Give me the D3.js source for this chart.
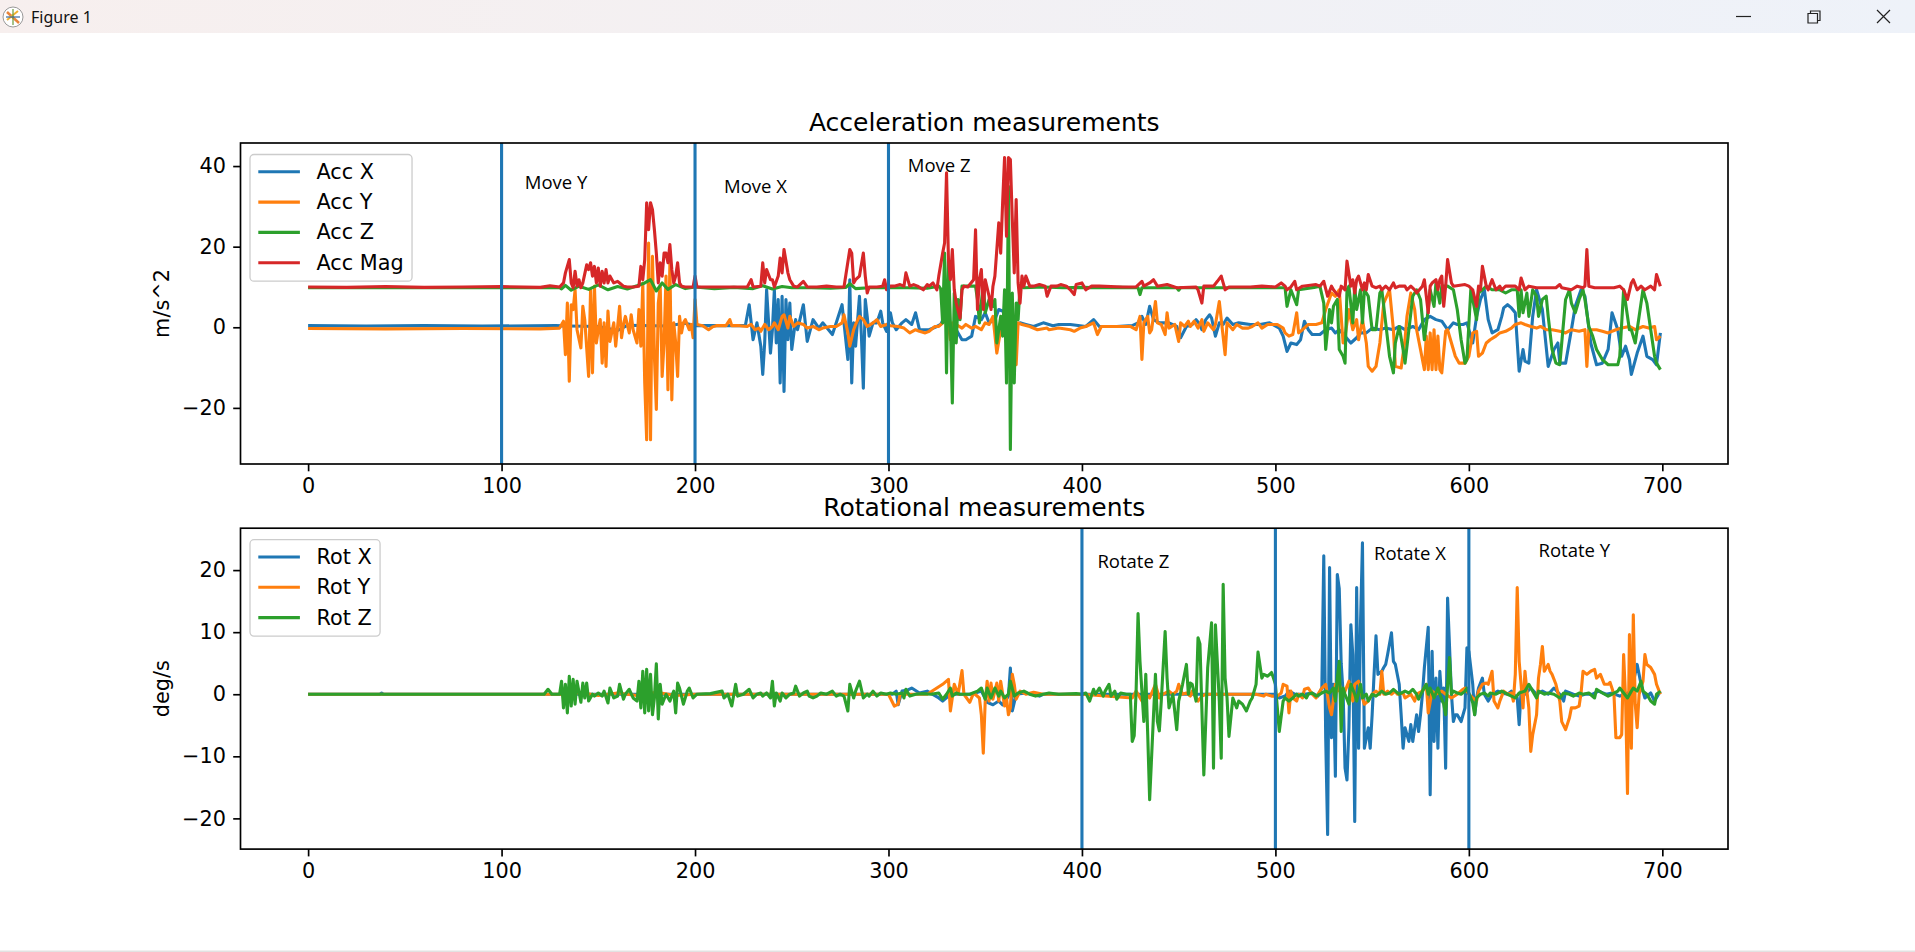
<!DOCTYPE html>
<html>
<head>
<meta charset="utf-8">
<script src="https://cdn.jsdelivr.net/npm/d3@7"></script>
<style>
  html, body { margin: 0; padding: 0; background: #fff; overflow: hidden; }
  svg { display: block; }
</style>
</head>
<body>
<svg id="chart" width="1915" height="952"></svg>
<script>
// ---------------- DATA ----------------
const accLabels = ["Acc X", "Acc Y", "Acc Z", "Acc Mag"];
const rotLabels = ["Rot X", "Rot Y", "Rot Z"];
const xTicks = [0, 100, 200, 300, 400, 500, 600, 700];
const accTicks = [-20, 0, 20, 40];
const rotTicks = [-20, -10, 0, 10, 20];
const accMarkers = [100, 200, 300];
const rotMarkers = [400, 500, 600];
const accNotes = [[112, 34.2, "Move Y"], [215, 33.2, "Move X"], [310, 38.5, "Move Z"]];
const rotNotes = [[408, 20.3, "Rotate Z"], [551, 21.7, "Rotate X"], [636, 22.1, "Rotate Y"]];

const accX = [[0,0.4],[30,0.3],[60,0.4],[90,0.3],[128,0.4],[135,0.3],[150,0.2],[160,-0.8],[165,0.5],[185,0.3],[195,1.0],[200,0.4],[226,0.4],[228,5.6],[230,-3.1],[232,1.1],[234,-4.7],[235,-11.7],[236,-3.9],[237,9.3],[239,-6.4],[240,-0.6],[241,9.3],[242,-3.9],[243,6.9],[244,-13.8],[245,7.7],[246,-15.9],[247,6.9],[248,-3.1],[249,6.0],[250,-5.5],[252,1.9],[253,-0.6],[256,5.6],[258,-3.5],[261,1.9],[264,-0.2],[266,1.1],[269,-0.6],[271,-1.8],[273,1.1],[276,5.6],[277,1.1],[279,-8.0],[280,11.8],[281,-13.8],[282,1.1],[283,-4.7],[285,7.7],[286,-2.2],[287,-15.1],[288,6.9],[289,2.7],[290,-2.2],[292,1.1],[294,1.1],[296,4.0],[297,1.1],[299,-1.0],[301,3.6],[302,1.1],[304,-0.6],[307,1.1],[309,1.9],[312,0.7],[314,3.6],[316,-0.6],[319,-0.6],[321,-0.6],[325,0.2],[327,0.7],[329,2.7],[331,1.1],[333,-3.9],[335,-0.6],[338,-3.1],[340,-3.1],[343,-2.2],[345,2.7],[348,1.9],[350,3.6],[352,1.1],[355,1.9],[357,4.4],[361,3.6],[364,0.2],[368,1.1],[371,0.7],[375,0.2],[380,1.1],[385,0.4],[388,0.7],[394,0.7],[399,0.4],[402,0.2],[406,1.9],[409,0.2],[418,0.2],[426,0.4],[429,1.1],[431,2.7],[433,0.7],[435,5.2],[437,1.9],[440,1.1],[445,1.1],[449,0.2],[451,-2.6],[454,0.2],[457,0.7],[459,1.9],[461,0.7],[462,-0.6],[464,1.9],[466,3.1],[467,2.3],[469,-2.2],[471,1.1],[473,0.7],[475,2.3],[478,0.7],[481,1.1],[487,0.7],[492,0.7],[497,1.1],[502,-0.2],[504,-2.2],[506,-6.0],[508,-3.9],[511,-4.3],[513,-3.1],[515,1.5],[517,-0.6],[519,-1.8],[523,-1.8],[526,-0.6],[529,-0.2],[531,-1.4],[533,-0.6],[536,-2.2],[539,-3.9],[542,-2.6],[544,-1.4],[547,-1.4],[550,-0.2],[554,-0.6],[557,-0.2],[561,-0.6],[564,0.2],[567,-0.6],[571,0.2],[574,-0.6],[577,1.9],[580,2.7],[583,1.9],[586,1.5],[589,-0.6],[592,1.1],[594,0.7],[597,0.7],[599,1.1],[602,-3.9],[604,2.7],[606,6.9],[608,9.3],[610,1.9],[612,-1.4],[615,-0.6],[617,2.7],[618,4.8],[620,5.6],[622,4.8],[624,3.6],[626,-10.9],[628,-5.5],[629,-8.4],[631,-8.9],[633,2.7],[635,9.3],[638,4.4],[641,-9.7],[644,-5.5],[646,-3.9],[647,-8.9],[650,-8.9],[653,-0.6],[655,5.2],[658,9.3],[660,7.7],[663,-3.9],[666,-9.3],[669,-8.9],[672,-5.5],[674,3.6],[677,-0.6],[679,-7.2],[681,-4.7],[683,-8.0],[684,-11.7],[687,-6.4],[690,-2.2],[692,-7.2],[695,-8.0],[697,-9.3],[699,-1.4]];

const accY = [[0,-0.3],[40,-0.4],[80,-0.3],[120,-0.4],[130,-0.2],[132,1.5],[133,-6.8],[134,6.0],[135,-13.4],[136,5.6],[137,4.4],[138,9.3],[139,-0.6],[141,-5.1],[142,5.2],[143,1.9],[145,-12.2],[146,9.3],[147,-11.3],[148,10.2],[149,-3.9],[150,-0.6],[151,1.9],[152,-8.9],[153,1.1],[154,-9.7],[155,4.0],[156,-3.5],[158,1.1],[159,-4.7],[161,5.2],[162,-2.6],[163,0.7],[164,2.7],[166,-1.4],[167,3.1],[168,-0.6],[170,-3.9],[171,4.4],[172,-4.7],[173,11.0],[174,-13.8],[175,-27.9],[176,20.9],[177,-27.9],[178,17.6],[179,-7.2],[180,-20.4],[181,6.0],[182,10.2],[183,-12.2],[184,-3.9],[185,12.7],[186,-15.5],[187,16.0],[188,-18.0],[189,1.1],[190,-3.9],[191,-12.2],[192,2.7],[193,-1.4],[194,1.1],[195,1.9],[197,-0.6],[198,0.7],[199,-2.6],[200,6.9],[201,0.7],[204,0.4],[207,-0.6],[209,0.1],[211,0.4],[216,0.4],[218,1.9],[219,0.4],[223,0.4],[227,0.2],[229,0.7],[231,-0.6],[233,-0.2],[234,-1.0],[236,0.7],[238,-0.6],[240,0.2],[241,1.1],[243,-0.6],[245,2.7],[246,3.1],[248,-0.2],[249,2.7],[251,0.2],[253,1.1],[256,0.7],[258,-0.2],[261,0.2],[264,-0.6],[266,-0.2],[270,0.2],[273,0.2],[276,1.1],[277,3.1],[279,-1.4],[280,-4.7],[282,-0.6],[283,0.7],[285,2.7],[287,1.9],[289,0.2],[292,1.1],[294,1.9],[296,0.2],[299,0.7],[301,0.4],[305,0.2],[308,-0.2],[311,-1.4],[314,-0.6],[316,-1.0],[319,-1.4],[321,-1.0],[324,0.2],[326,0.2],[328,1.1],[330,4.4],[332,-3.1],[333,1.1],[335,0.7],[338,-0.2],[340,0.7],[343,-0.2],[345,0.2],[348,-0.6],[350,1.1],[352,0.7],[354,2.7],[356,-6.4],[358,-0.6],[359,2.7],[361,-3.9],[363,-1.4],[364,-3.1],[366,-9.3],[367,1.1],[369,0.7],[373,0.2],[377,-0.6],[382,-0.2],[383,-0.6],[388,-0.2],[394,-0.6],[396,-1.0],[399,-0.2],[402,0.2],[406,1.1],[408,-1.8],[410,0.2],[419,0.2],[425,0.2],[428,-0.6],[430,2.7],[431,-8.0],[432,1.1],[434,2.7],[435,-1.4],[436,-0.6],[438,6.4],[439,1.1],[441,0.7],[443,-1.8],[444,3.6],[445,-0.2],[448,0.7],[450,-3.5],[451,1.1],[453,0.2],[455,1.5],[456,0.2],[458,1.5],[460,-0.2],[462,1.9],[463,-1.0],[465,1.1],[468,-0.6],[469,0.7],[471,6.4],[474,-6.8],[475,1.1],[478,-0.6],[480,0.7],[483,-0.2],[486,-0.2],[488,0.2],[491,1.1],[493,-0.2],[496,0.7],[501,0.7],[504,-0.2],[505,-1.4],[507,-2.2],[509,-1.8],[511,3.6],[512,-1.4],[514,-0.6],[517,0.7],[521,0.7],[524,1.1],[526,4.4],[529,8.5],[531,7.7],[533,9.3],[535,-3.9],[536,-2.2],[538,4.4],[540,-0.6],[542,1.9],[543,-3.1],[545,1.9],[547,-3.9],[548,-9.7],[550,-10.9],[552,-9.7],[554,-3.9],[556,6.0],[559,9.3],[561,-0.6],[562,-9.7],[565,-10.1],[567,-3.1],[568,2.7],[570,8.5],[572,4.4],[573,-0.6],[575,-5.5],[577,-10.5],[578,-2.2],[579,-10.5],[580,-1.4],[581,-10.5],[582,-0.6],[583,-10.5],[584,-2.2],[585,-10.5],[586,-11.3],[588,-1.0],[589,-0.6],[591,-3.9],[593,-7.2],[595,-8.9],[598,-8.9],[600,-7.2],[602,-1.4],[604,-1.0],[605,-7.2],[607,-6.4],[609,-3.9],[611,-3.1],[614,-2.2],[616,-1.4],[619,-1.0],[622,-0.2],[624,0.7],[627,1.1],[629,0.7],[632,0.2],[635,-0.2],[637,0.2],[640,-0.6],[643,-0.6],[647,-1.0],[650,-1.4],[653,-0.6],[657,-1.0],[660,-0.6],[661,-9.7],[662,-0.6],[666,-0.6],[669,-1.0],[672,-1.4],[676,-0.6],[679,-0.2],[683,0.2],[686,-0.6],[690,0.2],[693,-0.2],[696,0.2],[697,-3.1],[699,-2.2]];

const accZ = [[0,9.8],[60,9.8],[130,9.8],[131,9.5],[133,10.4],[136,9.2],[140,10.2],[145,9.4],[150,10.5],[155,9.3],[160,10.1],[165,9.5],[170,10.3],[174,11.0],[177,11.8],[180,9.0],[183,11.0],[186,9.4],[190,10.6],[195,9.6],[200,10.0],[210,9.6],[220,9.9],[230,9.6],[235,10.3],[240,9.5],[245,10.1],[250,9.8],[260,9.8],[270,9.7],[278,9.9],[280,10.8],[283,9.6],[290,9.8],[300,9.8],[310,9.8],[320,9.7],[326,10.2],[327,9.5],[328,1.1],[329,18.4],[330,-11.3],[331,16.8],[332,1.1],[333,-18.8],[334,8.5],[335,-3.9],[336,6.9],[337,1.9],[338,10.2],[342,10.2],[345,10.2],[346,6.9],[347,1.1],[349,11.0],[350,3.6],[352,6.9],[354,5.2],[355,6.9],[356,-3.9],[358,2.7],[359,-2.2],[360,9.3],[361,-13.8],[362,35.0],[363,-30.3],[364,8.5],[365,-13.8],[366,6.0],[367,1.9],[368,10.2],[370,9.8],[380,10.0],[390,9.8],[400,9.9],[410,9.8],[420,9.9],[429,9.8],[430,8.1],[431,9.8],[449,9.8],[450,9.2],[451,9.8],[480,9.8],[505,9.8],[506,5.2],[508,9.3],[511,5.6],[512,9.3],[520,9.9],[523,10.2],[525,6.0],[526,-5.5],[528,4.4],[529,1.1],[530,5.2],[532,6.9],[533,-5.5],[535,-7.2],[536,-8.9],[537,9.3],[538,10.2],[540,1.1],[541,10.2],[542,4.4],[544,9.3],[545,1.1],[546,9.3],[548,7.7],[550,-0.6],[552,-0.6],[554,8.5],[555,9.3],[557,1.1],[559,-7.2],[561,-11.3],[562,-3.9],[564,0.2],[566,-5.5],[567,-8.9],[569,-0.6],[571,7.7],[573,9.3],[575,6.9],[577,-3.1],[579,4.4],[580,9.3],[582,5.2],[583,11.0],[585,6.0],[586,10.2],[589,10.2],[592,9.3],[594,4.4],[596,-3.1],[598,-8.9],[599,-8.0],[601,9.3],[603,4.4],[604,1.9],[605,8.5],[607,9.3],[609,10.2],[612,9.3],[616,9.3],[619,8.5],[622,9.3],[625,9.3],[626,2.7],[627,9.3],[628,3.6],[630,8.5],[631,2.7],[633,9.3],[635,7.7],[636,2.7],[638,6.9],[640,7.7],[641,2.7],[643,-5.5],[645,-8.9],[647,-9.3],[648,-3.9],[650,6.9],[652,9.3],[653,6.0],[655,3.6],[657,6.9],[659,9.3],[660,6.9],[662,0.2],[664,-2.2],[666,-5.5],[669,-8.0],[672,-9.3],[674,-9.3],[677,-9.3],[678,-7.2],[680,9.3],[681,6.0],[683,-0.6],[684,-0.6],[686,-3.9],[688,2.7],[690,9.3],[692,6.0],[694,-0.6],[696,-7.2],[697,-8.9],[699,-10.5]];

const accMag = [[0,10.0],[20,9.9],[40,10.1],[60,9.9],[80,10.0],[100,10.1],[120,9.9],[125,10.3],[130,10.0],[132,11.0],[133,13.5],[135,16.8],[136,11.0],[137,9.8],[138,13.9],[139,10.2],[140,11.8],[141,9.8],[142,11.0],[144,15.5],[145,14.3],[146,16.0],[147,12.7],[148,15.1],[149,11.0],[150,14.7],[151,10.2],[152,13.9],[153,11.0],[154,14.3],[155,11.0],[156,12.7],[158,11.0],[160,11.4],[161,11.0],[163,10.2],[165,10.0],[168,10.0],[171,10.2],[172,15.1],[173,11.8],[174,16.8],[175,30.9],[176,24.2],[177,30.9],[178,29.2],[179,24.2],[180,18.4],[181,11.0],[182,16.0],[183,12.7],[184,18.4],[185,18.4],[186,16.0],[187,20.5],[188,14.3],[189,11.0],[190,12.7],[191,16.0],[192,11.0],[193,10.2],[195,10.0],[199,10.0],[200,12.7],[201,10.0],[206,10.0],[216,10.0],[227,10.0],[229,11.8],[230,10.0],[234,10.2],[235,16.0],[236,11.0],[237,14.3],[239,11.8],[240,11.8],[241,10.0],[243,12.7],[244,17.2],[245,13.5],[246,19.3],[248,13.5],[249,11.8],[251,10.2],[253,10.0],[256,11.4],[258,10.0],[263,10.0],[268,10.2],[273,10.0],[277,10.0],[278,13.1],[280,19.3],[281,18.4],[282,11.0],[283,11.8],[285,12.7],[287,18.4],[288,12.7],[289,8.5],[290,10.0],[294,10.0],[297,10.2],[298,11.8],[299,9.3],[301,10.2],[303,10.2],[306,10.6],[308,10.2],[309,13.5],[311,10.2],[313,10.6],[315,10.2],[318,9.3],[320,10.6],[321,10.2],[323,11.0],[325,9.3],[326,12.7],[328,18.4],[329,20.9],[330,38.3],[331,16.8],[332,11.8],[333,19.3],[334,9.3],[335,6.0],[337,2.3],[338,9.3],[339,10.2],[341,10.0],[344,11.8],[345,24.2],[346,4.4],[347,11.8],[348,14.3],[349,4.4],[350,11.8],[352,7.7],[353,4.4],[354,10.2],[355,12.7],[357,25.9],[358,18.4],[359,30.9],[360,42.1],[361,22.6],[362,42.1],[363,41.6],[364,26.7],[365,13.5],[366,31.7],[367,11.0],[368,6.0],[369,12.7],[370,10.2],[371,12.7],[373,10.2],[375,10.2],[378,10.6],[381,10.2],[382,7.7],[384,10.2],[387,10.2],[389,10.6],[392,10.2],[394,9.3],[396,8.1],[397,10.6],[400,11.0],[402,9.3],[405,10.2],[409,10.2],[421,10.0],[428,10.0],[431,11.4],[432,10.2],[435,11.0],[437,11.8],[439,10.2],[444,10.6],[449,9.8],[459,10.0],[460,9.3],[462,6.0],[463,10.2],[468,10.2],[470,11.4],[472,12.7],[473,11.0],[474,9.3],[476,10.0],[487,10.0],[493,10.2],[500,10.0],[503,11.0],[505,10.2],[506,9.3],[508,10.0],[510,11.4],[511,9.3],[514,10.2],[521,10.6],[523,10.2],[525,11.4],[527,7.7],[529,10.2],[530,9.3],[532,8.1],[533,7.7],[534,10.2],[536,9.3],[537,16.4],[539,10.2],[540,11.8],[541,8.5],[542,11.8],[543,12.7],[545,9.3],[546,11.0],[547,9.3],[548,13.1],[550,10.2],[552,9.8],[554,10.2],[555,9.3],[557,10.2],[559,9.3],[561,11.0],[562,9.8],[564,10.2],[567,10.2],[568,9.3],[570,10.2],[572,9.3],[573,8.5],[576,10.2],[577,11.8],[579,3.6],[580,10.2],[581,11.0],[583,11.8],[584,9.3],[585,11.8],[586,12.7],[587,5.2],[588,10.2],[589,16.8],[591,11.0],[592,10.2],[598,10.6],[600,10.2],[602,9.3],[604,5.2],[605,10.2],[606,9.3],[607,15.1],[609,10.2],[610,9.3],[612,11.8],[614,9.3],[616,10.2],[617,9.3],[619,10.2],[624,10.2],[626,9.3],[627,12.2],[629,9.3],[631,10.2],[635,9.8],[640,9.8],[645,9.8],[647,10.6],[648,9.8],[653,9.3],[656,10.2],[659,9.8],[660,10.2],[661,19.3],[662,10.2],[665,9.8],[670,9.8],[675,9.8],[678,10.2],[680,9.3],[682,6.9],[684,11.0],[685,11.8],[687,9.3],[689,10.2],[691,9.3],[694,10.2],[696,9.3],[697,13.1],[699,10.2]];

const rotX = [[0,0],[37,0],[38,0.2],[39,0],[302,0],[304,0.5],[305,-1.7],[307,0.5],[310,0.7],[312,1.0],[316,0.2],[320,0.5],[326,-0.6],[328,-1.1],[332,0],[343,0],[348,0.5],[351,-1.3],[354,-1.7],[357,-1.1],[359,-1.7],[362,-0.3],[363,4.2],[364,-2.7],[366,0],[371,0.2],[378,-0.3],[380,0],[500,0],[502,-0.6],[505,-0.3],[507,0.5],[510,0],[515,0],[519,0.2],[522,-0.3],[524,1.0],[525,22.3],[526,-7.0],[527,-22.6],[528,20.4],[529,-7.0],[530,1.6],[531,-13.2],[532,19.3],[533,17.0],[534,5.0],[535,0.2],[536,-11.9],[537,-13.8],[538,-5.4],[539,11.2],[540,6.4],[541,-20.5],[542,17.2],[543,-8.7],[544,11.5],[545,24.4],[546,-8.7],[548,-5.4],[549,-8.7],[550,-3.3],[551,3.2],[552,9.4],[553,3.2],[555,3.7],[556,4.3],[557,4.8],[558,6.4],[560,9.9],[561,5.3],[562,4.8],[564,1.6],[565,-3.3],[566,-8.7],[567,-5.4],[569,-7.6],[570,-4.9],[571,-7.6],[573,-3.3],[574,-6.0],[575,-3.3],[576,0],[577,4.3],[579,10.8],[580,-16.2],[581,6.9],[582,-7.6],[583,2.6],[584,-8.7],[585,3.7],[586,-1.1],[587,1.0],[588,-11.9],[589,15.5],[591,0],[592,-4.4],[593,-3.3],[594,-3.3],[596,-4.4],[598,-2.2],[599,7.5],[600,6.9],[602,1.6],[603,-3.3],[604,-0.6],[605,1.0],[607,2.6],[608,0],[610,-1.1],[612,0],[615,0.5],[617,0.2],[620,0],[622,0.5],[623,0],[625,-0.6],[626,-4.9],[627,0.5],[629,0],[632,1.0],[635,0],[638,0.5],[641,0],[644,1.0],[647,0],[649,-1.1],[650,0.5],[654,0],[657,-0.3],[660,0],[664,0],[667,0.5],[671,0],[674,0.2],[678,-0.3],[681,0],[684,0.5],[687,4.8],[689,1.6],[691,-0.6],[694,0.2],[696,-1.1],[699,0.5]];

const rotY = [[0,0],[130,0],[135,-0.3],[140,0.3],[150,-0.2],[160,0.2],[170,-0.2],[180,0.3],[190,-0.2],[200,0],[250,0],[300,0],[303,-1.9],[305,-1.6],[306,0],[320,0],[328,1.6],[331,2.4],[332,-2.7],[334,1.6],[336,0],[338,3.8],[339,0],[342,-1.3],[344,0.2],[347,-0.6],[348,-3.3],[349,-9.5],[350,-1.1],[351,2.1],[352,-1.1],[353,1.8],[354,-0.8],[356,1.8],[357,-1.1],[358,2.1],[360,-1.9],[361,-0.6],[362,-3.3],[363,-2.2],[364,3.2],[365,1.6],[366,-0.8],[368,0.5],[371,0],[375,0.3],[380,0],[400,0],[426,-0.6],[428,0.5],[431,-1.1],[433,0],[435,-0.6],[438,1.6],[440,-0.6],[442,0],[445,0.5],[447,0],[449,0.5],[450,1.6],[452,0],[454,0.2],[456,-0.3],[457,0.5],[460,-1.1],[462,-0.3],[464,0],[490,0],[494,-0.3],[495,0],[498,-0.3],[501,-0.3],[503,0.2],[504,1.6],[506,1.3],[507,-3.0],[508,0.5],[509,-0.6],[511,-1.1],[512,0],[514,-0.6],[515,0.8],[517,1.0],[519,0],[521,-0.6],[522,0],[524,1.0],[526,1.6],[528,-2.2],[529,-3.3],[531,1.6],[532,0.5],[533,2.1],[534,-1.1],[536,0.5],[538,2.1],[540,-1.1],[541,1.6],[543,2.1],[545,-0.6],[546,-1.6],[548,-1.1],[550,0],[552,0.5],[554,0],[555,3.7],[556,0],[558,0.5],[560,0],[562,0.5],[563,0],[566,0.2],[567,-0.6],[570,0],[572,-1.1],[573,0],[576,0.5],[578,1.6],[579,-3.0],[581,0.5],[583,0],[586,0.5],[588,0],[591,-0.6],[594,0],[597,0.8],[598,1.0],[600,0],[602,-0.6],[604,-1.1],[605,0.5],[607,1.6],[609,1.8],[610,1.6],[612,3.7],[613,-1.1],[615,-2.2],[616,-1.1],[618,0.5],[620,0],[622,0.2],[623,-1.1],[624,3.2],[625,17.2],[626,5.3],[628,-2.2],[629,3.7],[630,0.5],[631,-2.2],[632,-9.2],[633,-6.5],[635,-3.3],[636,2.6],[637,4.8],[638,7.7],[639,3.7],[641,4.8],[642,3.7],[643,3.2],[645,1.6],[647,-1.1],[648,-4.4],[650,-5.7],[652,-3.8],[653,-2.2],[655,-2.2],[657,-1.9],[658,0.2],[659,3.7],[661,3.2],[663,3.7],[665,4.0],[666,2.6],[668,3.2],[670,1.6],[672,1.6],[673,1.9],[675,0],[676,-7.0],[678,-7.0],[679,-6.5],[680,6.4],[681,-0.6],[682,-16.0],[683,9.6],[684,-8.7],[685,12.8],[686,-1.6],[687,-5.4],[688,0],[690,2.1],[691,6.4],[692,4.8],[694,4.3],[696,3.2],[697,1.6],[699,0]];

const rotZ = [[0,0],[122,0],[124,0.8],[126,0],[130,0],[131,2.1],[132,-2.2],[133,1.6],[134,-3.0],[135,2.9],[136,-1.9],[137,2.4],[138,-1.6],[139,2.1],[141,-1.3],[142,1.8],[143,-0.6],[144,1.8],[145,-1.1],[147,0],[148,-0.3],[150,0.2],[152,-0.3],[153,0.5],[155,-1.4],[156,1.0],[158,-0.6],[160,-0.3],[161,1.6],[163,-0.8],[164,0],[166,0.8],[168,-0.6],[170,-1.1],[171,2.1],[172,-2.2],[173,3.7],[174,-3.0],[175,4.0],[176,-2.7],[177,3.2],[178,-3.3],[179,-0.6],[180,4.9],[181,-4.0],[182,1.6],[183,-1.6],[185,0],[187,-1.1],[189,0.5],[190,-3.0],[191,1.8],[192,1.0],[194,-1.6],[196,0.5],[197,1.0],[199,-0.6],[201,0],[208,0.1],[214,0.5],[215,-0.6],[217,0],[219,-1.9],[221,1.6],[222,-0.3],[225,0],[228,0.8],[230,-0.6],[232,0],[234,0.2],[235,-0.3],[237,0.2],[239,-0.6],[240,2.1],[241,-1.9],[242,0.2],[244,-1.1],[245,0.2],[247,-0.6],[249,0],[251,0.2],[252,1.3],[254,-0.3],[256,0.2],[258,0.5],[259,-0.3],[261,-0.6],[263,-0.3],[265,0.2],[268,0],[271,0.5],[273,-0.3],[275,0],[277,-0.3],[279,-2.7],[280,1.6],[282,-0.6],[283,0.5],[285,2.1],[287,-0.6],[289,0],[290,-0.3],[292,0.5],[294,-0.3],[296,0.2],[299,0],[301,0.2],[304,0],[307,0.2],[308,-0.6],[309,0.8],[311,-0.3],[314,0],[318,0.1],[322,0],[326,0.2],[328,-0.8],[330,0],[332,1.0],[333,-0.3],[335,0.2],[337,0],[342,0],[346,0.5],[348,1.0],[350,-0.8],[351,1.0],[353,-0.6],[355,1.0],[357,-0.3],[358,0.5],[360,-0.6],[362,0],[363,2.1],[365,-0.3],[367,0.2],[370,0.5],[373,0],[376,-0.3],[380,0],[383,0.2],[388,0],[397,0.1],[400,0],[402,0.2],[404,-1.1],[406,0.8],[407,0],[409,1.0],[411,-0.3],[412,0.5],[414,1.6],[415,-0.3],[417,0.5],[418,-0.8],[420,0.2],[423,0],[425,0],[426,-7.6],[427,-6.7],[428,0.5],[429,13.0],[430,5.3],[432,-4.4],[433,3.2],[434,-6.5],[435,-17.0],[437,-3.3],[438,3.2],[439,-4.4],[440,-5.9],[441,-1.1],[443,10.1],[444,2.6],[445,-2.2],[447,0],[449,-5.7],[450,-1.1],[452,1.6],[454,4.8],[455,0],[456,1.8],[457,1.6],[459,-1.1],[460,9.1],[461,8.1],[463,-13.0],[464,-4.4],[465,4.3],[467,11.5],[468,-11.9],[469,11.2],[471,-1.1],[472,-10.3],[473,17.7],[474,2.6],[475,-0.6],[476,-6.8],[478,-0.6],[480,-2.2],[481,-1.1],[483,-1.6],[485,-2.7],[487,-1.1],[488,-0.6],[490,1.6],[491,6.8],[493,2.6],[494,3.2],[496,2.9],[498,3.5],[499,2.6],[500,1.6],[501,-2.2],[502,-6.0],[504,-1.1],[505,-0.6],[507,-1.1],[509,-0.6],[511,0],[512,-0.3],[514,0],[516,-0.6],[517,0],[519,0.2],[521,-0.3],[523,0],[524,0.2],[526,0.5],[528,0.2],[530,1.0],[531,-1.1],[532,2.6],[533,5.3],[534,-6.0],[535,1.0],[536,0],[538,-1.6],[539,1.6],[541,0],[542,-1.1],[544,1.6],[545,-0.6],[547,0],[548,-1.1],[550,0],[552,-0.3],[554,0.2],[555,0.5],[557,0],[559,0.2],[561,0.8],[562,0.5],[564,0],[567,0.5],[569,0.2],[571,0.8],[573,0],[574,-0.8],[576,0.5],[578,1.6],[579,0],[580,1.0],[582,-0.6],[584,1.0],[585,0],[587,-1.6],[588,-3.3],[590,5.9],[591,0],[592,0.5],[594,0.2],[596,0],[598,0.5],[599,1.0],[601,-0.6],[602,-1.4],[603,-3.3],[604,-0.6],[606,0],[608,0.2],[610,-0.3],[611,0.2],[614,0],[617,0.5],[620,0],[622,-0.3],[624,-0.6],[626,0.2],[629,0.5],[631,1.6],[633,0.5],[635,-0.6],[636,0.5],[639,0],[641,0.2],[644,0],[647,-0.6],[649,0.2],[652,0],[654,-0.3],[657,0.2],[659,0],[662,0.2],[665,-0.6],[666,0.8],[669,0.2],[672,-0.3],[674,0],[677,0.5],[678,1.0],[680,0.2],[682,-0.6],[684,0.5],[685,1.0],[687,0.5],[689,2.1],[690,0.5],[692,0],[694,-1.1],[696,-1.6],[697,0],[699,0.5]];

// ---------------- RENDERING ----------------
const colors = ["#1f77b4", "#ff7f0e", "#2ca02c", "#d62728"];
const W = 1915, H = 952;
const svg = d3.select("#chart");
const FONT = "'DejaVu Sans', sans-serif";
const tickFont = 20.8, titleFont = 25;

// window chrome
const defs = svg.append("defs");
const grad = defs.append("linearGradient").attr("id", "tb").attr("x1", 0).attr("x2", 1);
grad.append("stop").attr("offset", "0%").attr("stop-color", "#f7efee");
grad.append("stop").attr("offset", "100%").attr("stop-color", "#eef2f9");
svg.append("rect").attr("x", 0).attr("y", 0).attr("width", W).attr("height", 33).attr("fill", "url(#tb)");
const icon = svg.append("g").attr("transform", "translate(13,17)");
icon.append("circle").attr("r", 10).attr("fill", "#fff").attr("stroke", "#999").attr("stroke-width", 1);
icon.append("path").attr("d", "M-6,-5L6,6").attr("stroke", "#e8843c").attr("stroke-width", 2.5);
icon.append("path").attr("d", "M-6,3L5,-6").attr("stroke", "#f0b030").attr("stroke-width", 2);
icon.append("path").attr("d", "M0,-8L0,8").attr("stroke", "#6a9a3a").attr("stroke-width", 1.2);
icon.append("path").attr("d", "M-7,0L7,0").attr("stroke", "#3a6aa0").attr("stroke-width", 1.2);
svg.append("text").attr("x", 31).attr("y", 23).attr("font-family", "'Noto Sans', 'Open Sans', sans-serif")
  .attr("font-size", 16).attr("fill", "#111").text("Figure 1");
svg.append("path").attr("d", "M1736,16.5H1751").attr("stroke", "#222").attr("stroke-width", 1.2);
svg.append("path").attr("d", "M1808,13.5h9.5v9.5h-9.5z M1810.5,13.5v-2.5h9.5v9.5h-2.5").attr("fill", "none").attr("stroke", "#222").attr("stroke-width", 1.2);
svg.append("path").attr("d", "M1877,10L1890,23M1890,10L1877,23").attr("stroke", "#222").attr("stroke-width", 1.2);
svg.append("rect").attr("x", 0).attr("y", 950.5).attr("width", W).attr("height", 1.5).attr("fill", "#e2e2e2");

const L = 240.5, R = 1728;
const allX = [accX, accY, accZ, accMag, rotX, rotY, rotZ].flat().map(d => d[0]);
const xMin = d3.min(allX), xMax = d3.max(allX), xPad = (xMax - xMin) * 0.05;
const x = d3.scaleLinear().domain([xMin - xPad, xMax + xPad]).range([L, R]);

function panel(cfg) {
  const { top, bottom, series, labels, ticks, markers, notes, title, ylabel, id } = cfg;
  const vals = series.flat().map(d => d[1]);
  const lo = d3.min(vals), hi = d3.max(vals), pad = (hi - lo) * 0.05;
  const y = d3.scaleLinear().domain([lo - pad, hi + pad]).range([bottom, top]);
  const g = svg.append("g");

  defs.append("clipPath").attr("id", id).append("rect")
    .attr("x", L).attr("y", top).attr("width", R - L).attr("height", bottom - top);

  const line = d3.line().x(d => x(d[0])).y(d => y(d[1]));
  const plot = g.append("g").attr("clip-path", `url(#${id})`);
  series.forEach((s, i) => {
    plot.append("path").datum(s).attr("d", line).attr("fill", "none")
      .attr("stroke", colors[i]).attr("stroke-width", 3.1)
      .attr("stroke-linejoin", "round").attr("stroke-linecap", "butt");
  });
  markers.forEach(m => {
    plot.append("line").attr("x1", x(m)).attr("x2", x(m)).attr("y1", top).attr("y2", bottom)
      .attr("stroke", colors[0]).attr("stroke-width", 3.1);
  });

  // axes
  const xa = g.append("g").attr("transform", `translate(0,${bottom})`)
    .call(d3.axisBottom(x).tickValues(xTicks).tickSize(7.3).tickPadding(7.3).tickFormat(d3.format("d")));
  const ya = g.append("g").attr("transform", `translate(${L},0)`)
    .call(d3.axisLeft(y).tickValues(ticks).tickSize(7.3).tickPadding(7.3).tickFormat(d3.format("d")));
  [xa, ya].forEach(a => {
    a.select(".domain").remove();
    a.selectAll("line").attr("stroke", "#000").attr("stroke-width", 1.67);
    a.selectAll("text").attr("font-family", FONT).attr("font-size", tickFont).attr("fill", "#000");
  });

  g.append("rect").attr("x", L).attr("y", top).attr("width", R - L).attr("height", bottom - top)
    .attr("fill", "none").attr("stroke", "#000").attr("stroke-width", 1.67);

  // annotations
  notes.forEach(n => {
    g.append("text").attr("x", x(n[0])).attr("y", y(n[1]))
      .attr("font-family", "'Open Sans', 'Noto Sans', sans-serif").attr("font-size", 18.5)
      .attr("fill", "#000").text(n[2]);
  });

  // title and y label
  g.append("text").attr("x", (L + R) / 2).attr("y", top - 12.5).attr("text-anchor", "middle")
    .attr("font-family", FONT).attr("font-size", titleFont).attr("fill", "#000").text(title);
  g.append("text").attr("transform", `translate(162,${(top + bottom) / 2}) rotate(-90)`)
    .attr("text-anchor", "middle").attr("dominant-baseline", "central")
    .attr("font-family", FONT).attr("font-size", tickFont).attr("fill", "#000").text(ylabel);

  // legend
  const lx = 250, ly = top + 11.5, rowH = 30.3;
  const leg = g.append("g");
  const box = leg.append("rect").attr("x", lx).attr("y", ly).attr("rx", 4).attr("ry", 4)
    .attr("fill", "#fff").attr("fill-opacity", 0.8).attr("stroke", "#cccccc").attr("stroke-width", 1.3);
  let maxW = 0;
  labels.forEach((lab, i) => {
    const cy = ly + 17.3 + i * rowH;
    leg.append("line").attr("x1", lx + 8.3).attr("x2", lx + 8.3 + 41.6).attr("y1", cy).attr("y2", cy)
      .attr("stroke", colors[i]).attr("stroke-width", 3.1);
    const t = leg.append("text").attr("x", lx + 8.3 + 41.6 + 16.6).attr("y", cy)
      .attr("dominant-baseline", "central").attr("font-family", FONT).attr("font-size", tickFont)
      .attr("fill", "#000").text(lab);
    maxW = Math.max(maxW, t.node().getComputedTextLength());
  });
  box.attr("width", 8.3 + 41.6 + 16.6 + maxW + 8.3).attr("height", labels.length * rowH + 5.5);
}

panel({ id: "clipAcc", top: 143, bottom: 464, series: [accX, accY, accZ, accMag], labels: accLabels,
  ticks: accTicks, markers: accMarkers, notes: accNotes, title: "Acceleration measurements", ylabel: "m/s^2" });
panel({ id: "clipRot", top: 528.2, bottom: 849.1, series: [rotX, rotY, rotZ], labels: rotLabels,
  ticks: rotTicks, markers: rotMarkers, notes: rotNotes, title: "Rotational measurements", ylabel: "deg/s" });
</script>
</body>
</html>
